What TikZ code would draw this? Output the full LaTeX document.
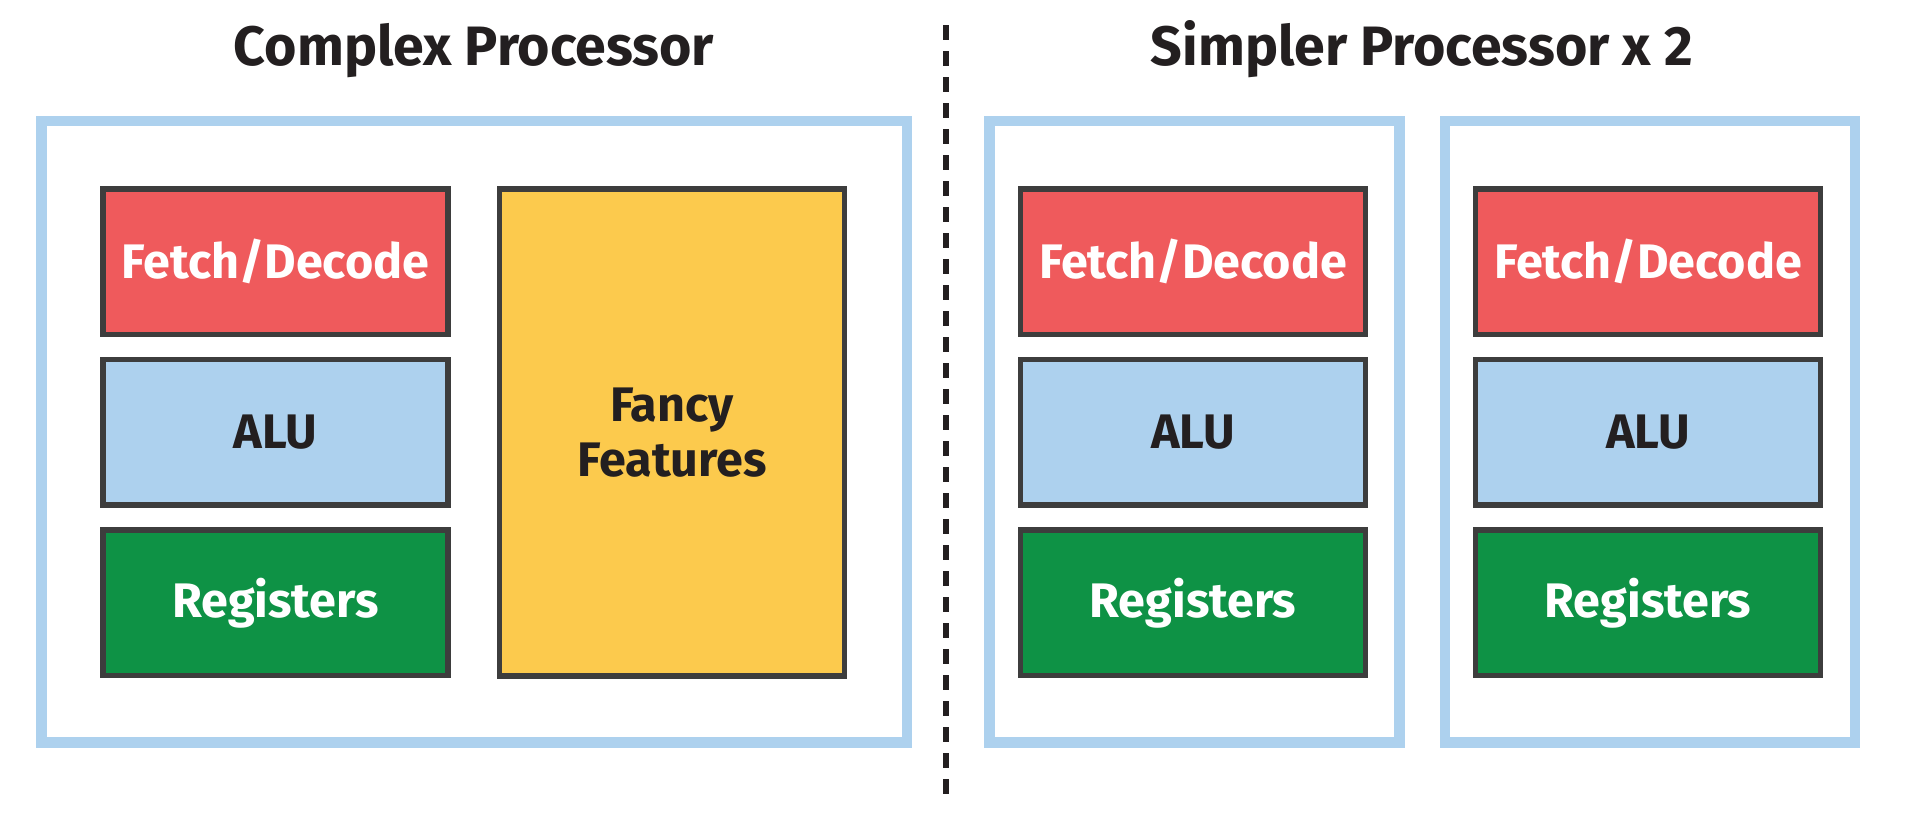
\documentclass[tikz,border=0pt]{standalone}
\usepackage{xcolor}
\usepackage{fontspec}
\setmainfont{Fira Sans}
\usetikzlibrary{positioning}
\definecolor{framblue}{HTML}{ADD1EE}
\definecolor{edgegray}{HTML}{3D3D3D}
\definecolor{inkdark}{HTML}{231F20}
\definecolor{fetchred}{HTML}{EF5A5C}
\definecolor{alublue}{HTML}{ADD1EE}
\definecolor{reggreen}{HTML}{0E9245}
\definecolor{fancyyellow}{HTML}{FCCA4D}
\tikzstyle{core} = [rectangle, draw=framblue, line width=10.5pt, fill=white, minimum height=621.5pt]
\tikzstyle{unit} = [rectangle, minimum width=345pt, minimum height=145.5pt, align=center, draw=edgegray, line width=5.5pt, font=\fontsize{48.5}{55}\selectfont\bfseries]
\tikzstyle{fetch} = [unit, fill=fetchred, text=white]
\tikzstyle{alu} = [unit, fill=alublue, text=inkdark]
\tikzstyle{regs} = [unit, fill=reggreen, text=white]
\tikzstyle{fancy} = [unit, minimum height=486.8pt, fill=fancyyellow, text=inkdark]
\tikzstyle{heading} = [anchor=base, text=inkdark, font=\fontsize{55.5}{62}\selectfont\bfseries]
\tikzstyle{divider} = [line width=5.5pt, dash pattern=on 15pt off 11pt, draw=inkdark]

\begin{document}
\begin{tikzpicture}[node distance=170.6pt]
		\useasboundingbox (0pt,0pt) rectangle (1907pt,-828pt);

		\node (titleA) [heading] at (474pt,-65pt) {Complex Processor};
		\node (titleB) [heading] at (1422pt,-65pt) {Simpler Processor x 2};

		\node (coreA) [core, minimum width=865.5pt] at (474.25pt,-431.75pt) {};
		\node (coreB) [core, minimum width=410pt] at (1194.4pt,-431.75pt) {};
		\node (coreC) [core, minimum width=410pt] at (1649.9pt,-431.75pt) {};

		\node (fetchA) [fetch] at (275.5pt,-261.75pt) {Fetch/Decode};
		\node (aluA) [alu, below of=fetchA] {ALU};
		\node (regsA) [regs, below of=aluA] {Registers};
		\node (fancyA) [fancy, right of=aluA, xshift=225.9pt] {Fancy\\Features};

		\node (fetchB) [fetch] at (1193pt,-261.75pt) {Fetch/Decode};
		\node (aluB) [alu, below of=fetchB] {ALU};
		\node (regsB) [regs, below of=aluB] {Registers};

		\node (fetchC) [fetch] at (1648pt,-261.75pt) {Fetch/Decode};
		\node (aluC) [alu, below of=fetchC] {ALU};
		\node (regsC) [regs, below of=aluC] {Registers};

		\coordinate (cutTop) at (946pt,-25pt);
		\coordinate (cutBot) at (946pt,-797pt);
		\draw [divider] (cutTop) -- (cutBot);
	\end{tikzpicture}
\end{document}
